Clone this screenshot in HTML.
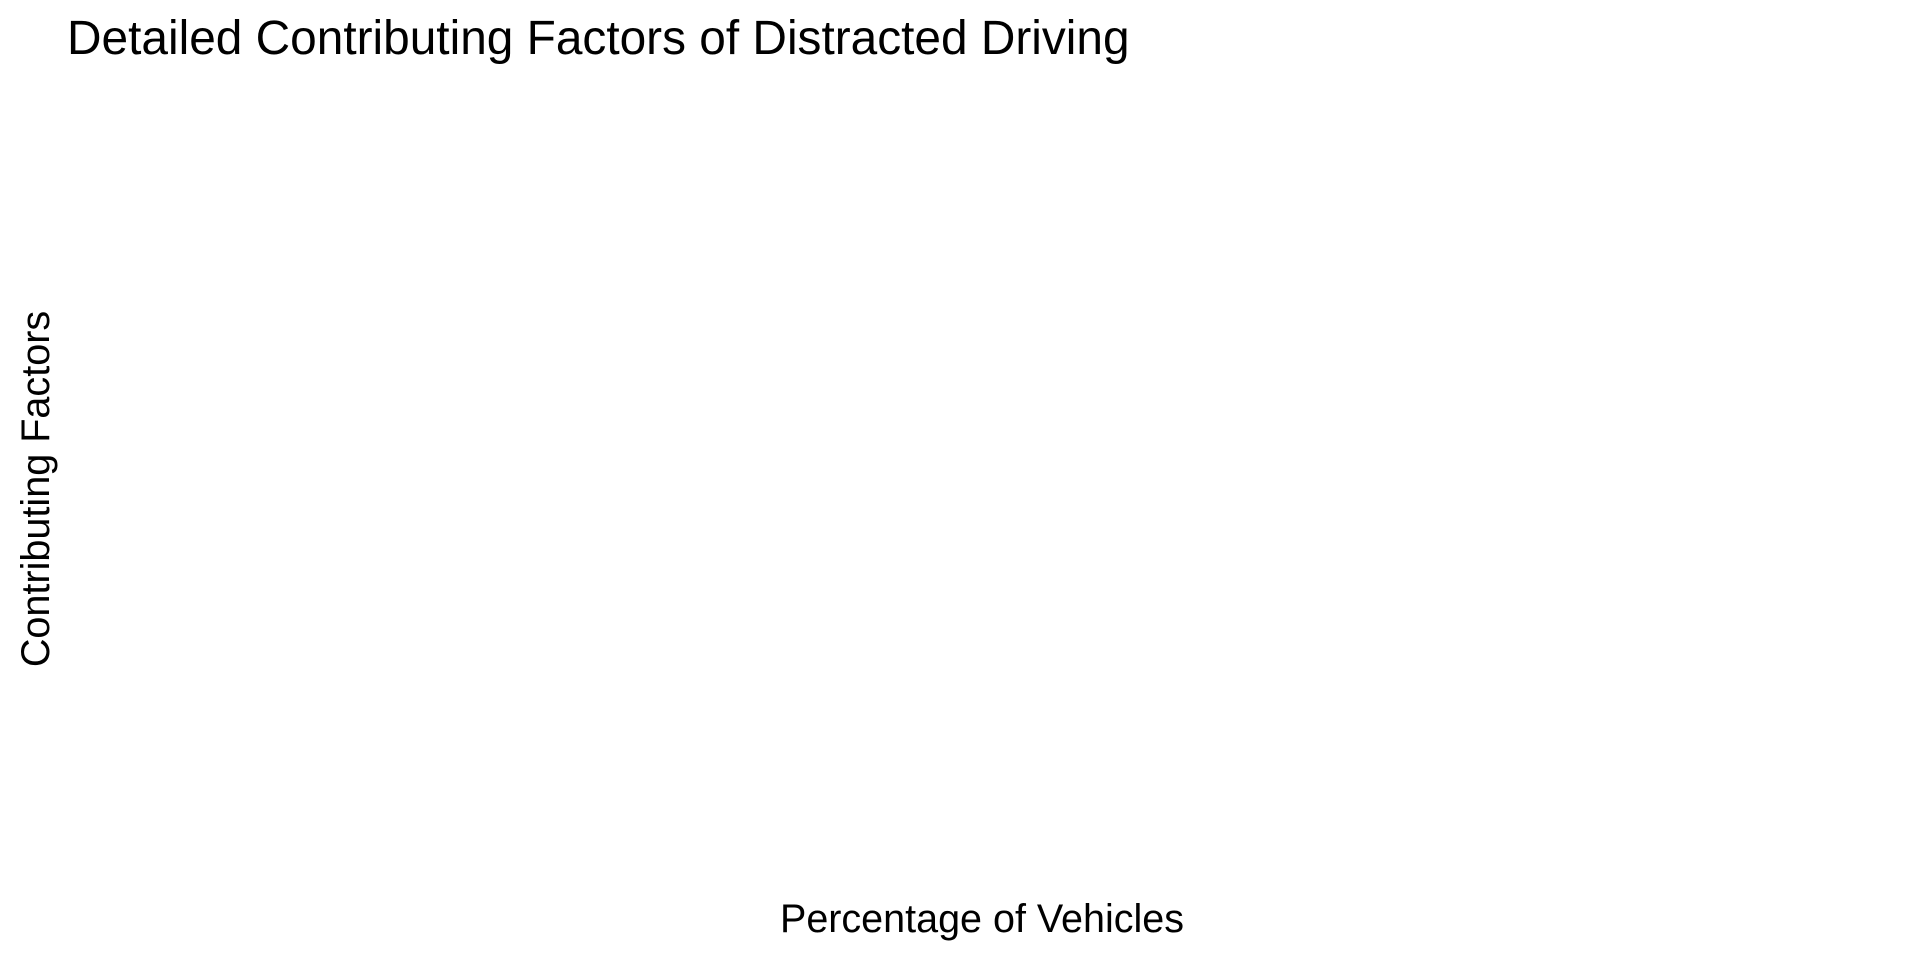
<!DOCTYPE html>
<html>
<head>
<meta charset="utf-8">
<style>
  html, body { margin:0; padding:0; background:#fff; }
  body { width:1920px; height:960px; overflow:hidden; font-family:"Liberation Sans", Arial, sans-serif; }
  svg text { font-family:"Liberation Sans", Arial, sans-serif; fill:#000; }
</style>
</head>
<body>
<svg id="chart" width="1920" height="960" viewBox="0 0 1920 960">
  <rect x="0" y="0" width="1920" height="960" fill="#ffffff"></rect>
  <text x="67" y="54" font-size="47.8">Detailed Contributing Factors of Distracted Driving</text>
  <text x="982" y="932" font-size="39.5" text-anchor="middle">Percentage of Vehicles</text>
  <text transform="translate(49,489) rotate(-90)" font-size="39.6" text-anchor="middle">Contributing Factors</text>
  <g id="plot"></g>
</svg>
<script>
// Data (the reference chart shows no marks)
const categories = [];
const values = [];

const plotLeft = 90, plotRight = 1890, plotTop = 90, plotBottom = 880;
function xScale(v) {
  const max = values.length ? Math.max(...values) : 1;
  return plotLeft + (v / max) * (plotRight - plotLeft);
}
function yScale(i) {
  const n = Math.max(categories.length, 1);
  return plotTop + i * (plotBottom - plotTop) / n;
}
const plot = document.getElementById('plot');
categories.forEach(function (c, i) {
  const r = document.createElementNS('http://www.w3.org/2000/svg', 'rect');
  const bh = (plotBottom - plotTop) / categories.length * 0.8;
  r.setAttribute('x', plotLeft);
  r.setAttribute('y', yScale(i) + bh * 0.1);
  r.setAttribute('width', xScale(values[i]) - plotLeft);
  r.setAttribute('height', bh);
  r.setAttribute('fill', '#4682b4');
  
  
  plot.appendChild(r);
});
</script>
</body>
</html>
